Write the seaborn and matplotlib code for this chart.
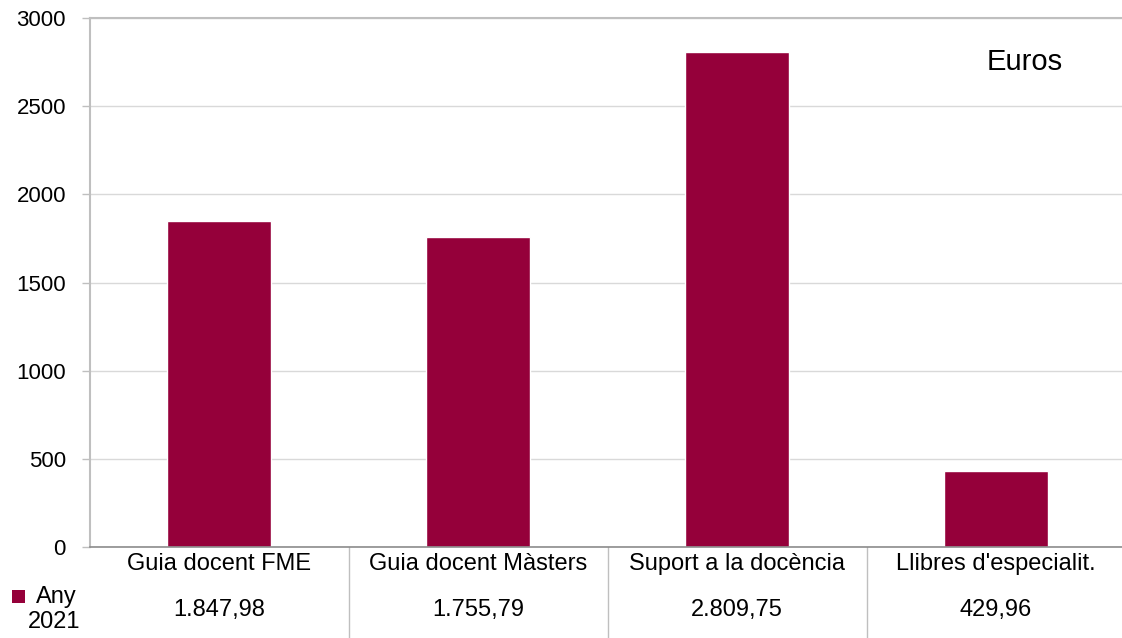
import matplotlib
matplotlib.use("Agg")
import matplotlib.pyplot as plt
import seaborn as sns
import pandas as pd
from matplotlib.patches import Rectangle

categories = ["Guia docent FME", "Guia docent Màsters", "Suport a la docència", "Llibres d'especialit."]
values = [1847.98, 1755.79, 2809.75, 429.96]
value_labels = ["1.847,98", "1.755,79", "2.809,75", "429,96"]
bar_color = "#95003a"

sns.set_style("white")
plt.rcParams["font.family"] = ["Liberation Sans", "DejaVu Sans"]
plt.rcParams["text.color"] = "black"
plt.rcParams["ytick.labelcolor"] = "black"

df = pd.DataFrame({"cat": categories, "val": values})

W, H = 1122, 638
L, R, T, B = 89.5, 1125.5, 18, 547
fig = plt.figure(figsize=(W / 100, H / 100), dpi=100)
ax = fig.add_axes([L / W, 1 - B / H, (R - L) / W, (B - T) / H])

sns.barplot(data=df, x="cat", y="val", color=bar_color, saturation=1, width=0.40, ax=ax)

ax.set_ylim(0, 3000)
ax.set_xlim(-0.5, 3.5)
ax.set_yticks(range(0, 3001, 500))
ax.yaxis.grid(True, color="#d9d9d9", linewidth=1)
ax.set_axisbelow(True)
ax.set_xlabel("")
ax.set_ylabel("")
ax.set_xticks([])
ax.tick_params(axis="y", labelsize=16, length=6, width=1, color="#bfbfbf", left=True, pad=11)

for s in ["left", "top"]:
    ax.spines[s].set_color("#bfbfbf")
    ax.spines[s].set_linewidth(1.5)
ax.spines["right"].set_visible(False)
ax.spines["bottom"].set_color("#8c8c8c")
ax.spines["bottom"].set_linewidth(1.2)

ax.text((1025 - L) / (R - L), (B - 62) / (B - T), "Euros",
        transform=ax.transAxes, ha="center", va="center", fontsize=21)

# data table below the plot
tr = ax.get_xaxis_transform()
for i, (c, v) in enumerate(zip(categories, value_labels)):
    ax.text(i, -(564 - B) / (B - T), c, transform=tr, ha="center", va="center", fontsize=17, clip_on=False)
    ax.text(i, -(610 - B) / (B - T), v, transform=tr, ha="center", va="center", fontsize=17, clip_on=False)
for b in [0.5, 1.5, 2.5]:
    ax.axvline(b, ymin=-(638 - B) / (B - T), ymax=0, color="#bfbfbf", linewidth=1, clip_on=False)

# legend key in table
fig.patches.append(Rectangle((12 / W, 1 - 603 / H), 13 / W, 13 / H,
                             transform=fig.transFigure, facecolor=bar_color, edgecolor="none"))
fig.text(36 / W, 1 - 597 / H, "Any", ha="left", va="center", fontsize=17)
fig.text(54 / W, 1 - 622 / H, "2021", ha="center", va="center", fontsize=17)

fig.savefig("out.png", dpi=100)
